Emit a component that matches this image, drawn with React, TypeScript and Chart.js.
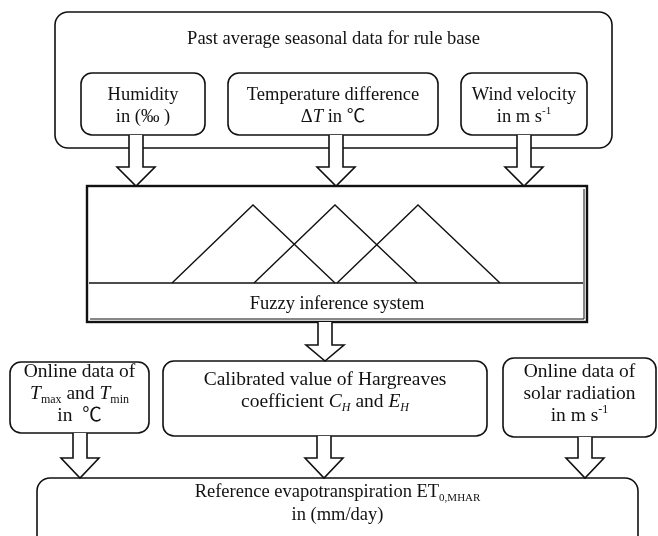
import React, { useEffect, useRef } from "react";
import { Chart, registerables } from "chart.js";

Chart.register(...registerables);

// ---------- data (diagram units: x 0..658, y 0..536 downward) ----------
type Seg = [string, string?];
type Line = Seg[];

const titleText = "Past average seasonal data for rule base";
const outerBox = [55, 12, 612, 148];
const titleY = 39;

const inputBoxes = [
  [81, 73, 205, 135],
  [228, 73, 438, 135],
  [461, 73, 587, 135],
];
const inputLabels: Line[][] = [
  [[["Humidity"]], [["in (‰ )"]]],
  [[["Temperature difference"]], [["Δ"], ["T", "i"], [" in ℃"]]],
  [[["Wind velocity"]], [["in m s"], ["-1", "sup"]]],
];
const inputTextY = [106, 106, 106];

const fisBox = [87, 186, 587, 322];
const fisBaseY = 283;
const fisPeakY = 205;
const fisBaseX = [89, 583];
const fisLabel = "Fuzzy inference system";
const fisTextY = 304;

// membership functions (triangles): left foot, peak, right foot
const mfLeft = [172, 254, 337];
const mfPeak = [253, 335, 418];
const mfRight = [335, 417, 500];
const mfValues = [0, 1, 0];

const bottomBoxes = [
  [10, 362, 149, 433],
  [163, 361, 487, 436],
  [503, 358, 656, 437],
];
const bottomLabels: Line[][] = [
  [[["Online data of"]], [["T", "i"], ["max", "sub"], [" and "], ["T", "i"], ["min", "sub"]], [["in  ℃"]]],
  [[["Calibrated value of Hargreaves"]], [["coefficient "], ["C", "i"], ["H", "isub"], [" and "], ["E", "i"], ["H", "isub"]]],
  [[["Online data of"]], [["solar radiation"]], [["in m s"], ["-1", "sup"]]],
];
const bottomTextY = [394, 391, 394];

const outputBox = [37, 478, 638, 548];
const outputLabel: Line[] = [[["Reference evapotranspiration ET"], ["0,MHAR", "sub"]], [["in (mm/day)"]]];
const outputTextY = 504;

// arrows: centre x, start y, tip y, head length
const arrowX = [136, 336, 524, 325, 80, 324, 585];
const arrowY0 = [135, 135, 135, 322, 433, 436, 437];
const arrowY1 = [186, 186, 186, 361, 478, 478, 478];
const arrowHead = [19, 19, 19, 16, 20, 20, 20];

const FONT = '"Liberation Serif", "Times New Roman", "Noto Sans CJK SC", serif';

function fontFor(style: string | undefined, fs: number) {
  const small = style === "sub" || style === "sup" || style === "isub";
  const size = small ? Math.round(fs * 0.62) : fs;
  const ital = style === "i" || style === "isub" ? "italic " : "";
  return `${ital}${size}px ${FONT}`;
}

function drawLine(ctx: CanvasRenderingContext2D, line: Line, cx: number, cy: number, fs: number) {
  let total = 0;
  for (const [t, s] of line) {
    ctx.font = fontFor(s, fs);
    total += ctx.measureText(t).width;
  }
  let x = cx - total / 2;
  for (const [t, s] of line) {
    ctx.font = fontFor(s, fs);
    let dy = 0;
    if (s === "sub" || s === "isub") dy = fs * 0.28;
    if (s === "sup") dy = -fs * 0.33;
    ctx.fillText(t, x, cy + dy);
    x += ctx.measureText(t).width;
  }
}

function drawLines(ctx: CanvasRenderingContext2D, lines: Line[], cx: number, cy: number, fs: number, lh: number) {
  const n = lines.length;
  lines.forEach((ln, i) => drawLine(ctx, ln, cx, cy + (i - (n - 1) / 2) * lh, fs));
}

function roundRect(ctx: CanvasRenderingContext2D, x0: number, y0: number, x1: number, y1: number, r: number) {
  ctx.beginPath();
  ctx.moveTo(x0 + r, y0);
  ctx.lineTo(x1 - r, y0);
  ctx.arcTo(x1, y0, x1, y0 + r, r);
  ctx.lineTo(x1, y1 - r);
  ctx.arcTo(x1, y1, x1 - r, y1, r);
  ctx.lineTo(x0 + r, y1);
  ctx.arcTo(x0, y1, x0, y1 - r, r);
  ctx.lineTo(x0, y0 + r);
  ctx.arcTo(x0, y0, x0 + r, y0, r);
  ctx.closePath();
}

const diagramPlugin = {
  id: "diagram",
  beforeDatasetsDraw(chart: any) {
    const { ctx } = chart;
    const sx = chart.scales.x;
    const sy = chart.scales.y;
    const X = (v: number) => sx.getPixelForValue(v);
    const Y = (v: number) => sy.getPixelForValue(v);
    ctx.save();
    ctx.fillStyle = "#fff";
    ctx.fillRect(0, 0, chart.width, chart.height);
    ctx.strokeStyle = "#111";
    ctx.fillStyle = "#111";
    ctx.lineWidth = 1.6;

    const rbox = (b: number[], r: number) => {
      roundRect(ctx, X(b[0]), Y(b[1]), X(b[2]), Y(b[3]), r);
      ctx.stroke();
    };
    rbox(outerBox, 13);
    inputBoxes.forEach((b) => rbox(b, 11));
    bottomBoxes.forEach((b) => rbox(b, 11));
    rbox(outputBox, 13);

    // FIS box with heavy double border
    const fx0 = X(fisBox[0]), fy0 = Y(fisBox[1]), fx1 = X(fisBox[2]), fy1 = Y(fisBox[3]);
    ctx.lineWidth = 2.4;
    ctx.strokeRect(fx0, fy0, fx1 - fx0, fy1 - fy0);
    ctx.lineWidth = 1;
    ctx.beginPath();
    ctx.moveTo(fx0 + 3, fy1 - 3);
    ctx.lineTo(fx1 - 3, fy1 - 3);
    ctx.lineTo(fx1 - 3, fy0 + 3);
    ctx.stroke();
    ctx.lineWidth = 1.4;
    ctx.beginPath();
    ctx.moveTo(X(fisBaseX[0]), Y(fisBaseY));
    ctx.lineTo(X(fisBaseX[1]), Y(fisBaseY));
    ctx.stroke();

    // text
    ctx.textBaseline = "middle";
    ctx.textAlign = "left";
    drawLine(ctx, [[titleText]], X((outerBox[0] + outerBox[2]) / 2), Y(titleY), 18.5);
    inputBoxes.forEach((b, i) => drawLines(ctx, inputLabels[i], X((b[0] + b[2]) / 2), Y(inputTextY[i]), 18.5, 22));
    drawLine(ctx, [[fisLabel]], X((fisBox[0] + fisBox[2]) / 2), Y(fisTextY), 18.5);
    bottomBoxes.forEach((b, i) => drawLines(ctx, bottomLabels[i], X((b[0] + b[2]) / 2), Y(bottomTextY[i]), 19.5, 22));
    drawLines(ctx, outputLabel, X((outputBox[0] + outputBox[2]) / 2), Y(outputTextY), 18.5, 23);
    ctx.restore();
  },
  afterDatasetsDraw(chart: any) {
    const { ctx } = chart;
    const sx = chart.scales.x;
    const sy = chart.scales.y;
    const X = (v: number) => sx.getPixelForValue(v);
    const Y = (v: number) => sy.getPixelForValue(v);
    ctx.save();
    ctx.strokeStyle = "#111";
    ctx.fillStyle = "#fff";
    ctx.lineWidth = 1.6;
    ctx.lineJoin = "miter";
    arrowX.forEach((ax, i) => {
      const cx = X(ax);
      const y0 = Y(arrowY0[i]);
      const y1 = Y(arrowY1[i]);
      const hs = Y(arrowY1[i] - arrowHead[i]);
      const sw = X(ax + 7) - cx;
      const hw = X(ax + 19) - cx;
      ctx.beginPath();
      ctx.moveTo(cx - sw, y0);
      ctx.lineTo(cx - sw, hs);
      ctx.lineTo(cx - hw, hs);
      ctx.lineTo(cx, y1);
      ctx.lineTo(cx + hw, hs);
      ctx.lineTo(cx + sw, hs);
      ctx.lineTo(cx + sw, y0);
      ctx.fill();
      ctx.stroke();
    });
    ctx.restore();
  },
};

export default function App() {
  const ref = useRef<HTMLCanvasElement | null>(null);
  useEffect(() => {
    if (!ref.current) return;
    // membership axis: 0 at triangle base line, 1 at peaks
    const span = fisBaseY - fisPeakY;
    const mMax = fisBaseY / span;
    const mMin = (fisBaseY - 536) / span;
    const datasets = mfPeak.map((p, i) => ({
      label: `MF${i + 1}`,
      data: [mfLeft[i], p, mfRight[i]].map((x, k) => ({ x, y: mfValues[k] })),
      yAxisID: "m",
      borderColor: "#111",
      borderWidth: 1.4,
      pointRadius: 0,
      tension: 0,
      fill: false,
    }));
    const chart = new Chart(ref.current, {
      type: "line",
      data: { datasets },
      options: {
        animation: false,
        responsive: false,
        devicePixelRatio: 1,
        layout: { padding: 0 },
        plugins: { legend: { display: false }, tooltip: { enabled: false } },
        scales: {
          x: { type: "linear", min: 0, max: 658, display: false },
          y: { type: "linear", min: 0, max: 536, reverse: true, display: false },
          m: { type: "linear", min: mMin, max: mMax, display: false },
        },
      },
      plugins: [diagramPlugin],
    });
    return () => chart.destroy();
  }, []);
  return (
    <div style={{ position: "fixed", left: 0, top: 0, width: 658, height: 536, background: "#fff" }}>
      <canvas ref={ref} width={658} height={536} style={{ display: "block" }} />
    </div>
  );
}
